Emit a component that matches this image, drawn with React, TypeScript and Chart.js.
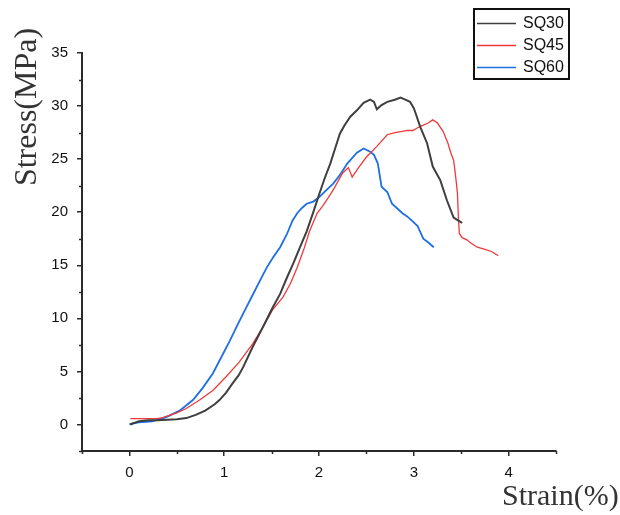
import React, { useEffect, useRef } from "react";
import { Chart, registerables } from "chart.js";

Chart.register(...registerables);

// ---- data ----
const seriesLabels = ["SQ30", "SQ45", "SQ60"];
const seriesColors = ["#3f3f3f", "#f03a3a", "#1c6fe4"];
const seriesWidths = [2, 1.3, 1.8];

const sq30Strain = [0.01, 0.1, 0.2, 0.3, 0.4, 0.5, 0.6, 0.7, 0.8, 0.9, 0.95, 1.02, 1.09, 1.15, 1.2, 1.3, 1.41, 1.51, 1.59, 1.66, 1.73, 1.8, 1.87, 1.94, 2.01, 2.06, 2.12, 2.17, 2.22, 2.27, 2.33, 2.4, 2.47, 2.54, 2.58, 2.61, 2.66, 2.72, 2.8, 2.86, 2.91, 2.96, 3.0, 3.02, 3.07, 3.14, 3.2, 3.28, 3.35, 3.42, 3.47, 3.51];
const sq30Stress = [0.0, 0.3, 0.4, 0.4, 0.45, 0.5, 0.6, 0.9, 1.3, 1.9, 2.3, 3.0, 3.9, 4.6, 5.4, 7.3, 9.2, 11.0, 12.3, 13.8, 15.2, 16.7, 18.2, 20.0, 21.9, 23.2, 24.6, 26.0, 27.4, 28.2, 29.0, 29.6, 30.3, 30.6, 30.4, 29.7, 30.1, 30.4, 30.6, 30.8, 30.6, 30.4, 29.8, 29.3, 28.0, 26.5, 24.3, 23.0, 21.1, 19.5, 19.2, 19.0];

const sq45Strain = [0.01, 0.1, 0.2, 0.29, 0.35, 0.42, 0.5, 0.6, 0.74, 0.88, 1.02, 1.16, 1.3, 1.41, 1.51, 1.62, 1.7, 1.77, 1.84, 1.9, 1.98, 2.04, 2.1, 2.15, 2.2, 2.25, 2.31, 2.35, 2.41, 2.5, 2.61, 2.72, 2.8, 2.86, 2.93, 2.99, 3.05, 3.1, 3.15, 3.2, 3.25, 3.31, 3.36, 3.39, 3.42, 3.44, 3.46, 3.47, 3.48, 3.51, 3.56, 3.6, 3.67, 3.75, 3.82, 3.89];
const sq45Stress = [0.55, 0.55, 0.55, 0.55, 0.65, 0.85, 1.1, 1.5, 2.3, 3.2, 4.5, 5.9, 7.6, 9.2, 10.8, 12.0, 13.3, 14.8, 16.5, 18.2, 19.9, 20.6, 21.4, 22.1, 22.9, 23.7, 24.2, 23.3, 24.1, 25.2, 26.2, 27.3, 27.5, 27.6, 27.7, 27.7, 28.0, 28.2, 28.4, 28.7, 28.4, 27.6, 26.5, 25.6, 24.9, 23.5, 21.8, 19.7, 18.0, 17.6, 17.4, 17.1, 16.7, 16.5, 16.3, 15.9];

const sq60Strain = [0.0, 0.03, 0.1, 0.24, 0.39, 0.53, 0.67, 0.77, 0.88, 0.95, 1.06, 1.13, 1.22, 1.3, 1.38, 1.45, 1.52, 1.59, 1.66, 1.72, 1.77, 1.82, 1.87, 1.94, 2.0, 2.08, 2.15, 2.22, 2.3, 2.4, 2.47, 2.54, 2.58, 2.62, 2.66, 2.72, 2.77, 2.82, 2.88, 2.93, 2.98, 3.04, 3.1, 3.16, 3.21];
const sq60Stress = [0.0, 0.1, 0.2, 0.3, 0.7, 1.3, 2.3, 3.4, 4.8, 6.0, 7.9, 9.2, 10.8, 12.2, 13.6, 14.8, 15.8, 16.7, 17.9, 19.2, 19.9, 20.4, 20.8, 21.0, 21.4, 22.1, 22.7, 23.5, 24.6, 25.6, 26.0, 25.7, 25.4, 24.6, 22.4, 21.9, 20.8, 20.4, 19.9, 19.6, 19.2, 18.7, 17.5, 17.1, 16.7];

const xMajorTicks = [0, 1, 2, 3, 4];
const xMinorTicks = [-0.5, 0.5, 1.5, 2.5, 3.5, 4.5];
const yMajorTicks = [0, 5, 10, 15, 20, 25, 30, 35];
const yMinorTicks = [-2.5, 2.5, 7.5, 12.5, 17.5, 22.5, 27.5, 32.5];
const xRange = [-0.5, 4.5];
const yRange = [-2.5, 35];
const xTitle = "Strain(%)";
const yTitle = "Stress(MPa)";

const AXIS_COLOR = "#2a2a2a";
const TICK_FONT = '"Liberation Sans", Arial, sans-serif';

function zip(xs: number[], ys: number[]) {
  return xs.map((x, i) => ({ x, y: ys[i] }));
}

const minorTicksPlugin = {
  id: "minorTicks",
  afterDraw(chart: any) {
    const ctx = chart.ctx;
    const xs = chart.scales.x;
    const ys = chart.scales.y;
    const area = chart.chartArea;
    ctx.save();
    ctx.strokeStyle = AXIS_COLOR;
    ctx.lineWidth = 1.5;
    ctx.beginPath();
    xMinorTicks.forEach((v) => {
      const px = Math.round(xs.getPixelForValue(v)) + 0.5;
      ctx.moveTo(px, area.bottom);
      ctx.lineTo(px, area.bottom + 3);
    });
    yMinorTicks.forEach((v) => {
      const py = Math.round(ys.getPixelForValue(v)) + 0.5;
      ctx.moveTo(area.left, py);
      ctx.lineTo(area.left - 3, py);
    });
    ctx.stroke();
    ctx.restore();
  },
};

const titlesPlugin = {
  id: "titles",
  afterDraw(chart: any) {
    const ctx = chart.ctx;
    ctx.save();
    ctx.fillStyle = "#333333";
    ctx.font = '30px "Liberation Serif", "Times New Roman", serif';
    ctx.textAlign = "left";
    ctx.textBaseline = "alphabetic";
    ctx.fillText(xTitle, 502, 505);
    ctx.font = '32px "Liberation Serif", "Times New Roman", serif';
    ctx.translate(28, 107);
    ctx.rotate(-Math.PI / 2);
    ctx.textAlign = "center";
    ctx.textBaseline = "middle";
    ctx.fillText(yTitle, 0, 0);
    ctx.restore();
  },
};

const legendPlugin = {
  id: "boxLegend",
  afterDraw(chart: any) {
    const ctx = chart.ctx;
    ctx.save();
    ctx.strokeStyle = "#111111";
    ctx.lineWidth = 2;
    ctx.strokeRect(474, 9, 95, 70);
    ctx.font = '16px "Liberation Sans", Arial, sans-serif';
    ctx.textAlign = "left";
    ctx.textBaseline = "middle";
    chart.data.datasets.forEach((ds: any, i: number) => {
      const y = 23 + i * 22;
      ctx.strokeStyle = ds.borderColor;
      ctx.lineWidth = 1.6;
      ctx.beginPath();
      ctx.moveTo(477, y + 0.5);
      ctx.lineTo(516, y + 0.5);
      ctx.stroke();
      ctx.fillStyle = "#111111";
      ctx.fillText(ds.label, 523, y + 1);
    });
    ctx.restore();
  },
};

export default function App() {
  const canvasRef = useRef<HTMLCanvasElement | null>(null);

  useEffect(() => {
    const canvas = canvasRef.current;
    if (!canvas) return;
    const seriesData = [
      zip(sq30Strain, sq30Stress),
      zip(sq45Strain, sq45Stress),
      zip(sq60Strain, sq60Stress),
    ];
    const chart = new Chart(canvas, {
      type: "scatter",
      data: {
        datasets: seriesLabels.map((label, i) => ({
          label,
          data: seriesData[i],
          showLine: true,
          borderColor: seriesColors[i],
          backgroundColor: seriesColors[i],
          borderWidth: seriesWidths[i],
          pointRadius: 0,
          pointHoverRadius: 0,
          tension: 0,
        })),
      },
      options: {
        animation: false,
        responsive: false,
        maintainAspectRatio: false,
        devicePixelRatio: 1,
        layout: { padding: { left: 0, top: 53, right: 64, bottom: 0 } },
        plugins: {
          legend: { display: false },
          tooltip: { enabled: false },
        },
        scales: {
          x: {
            type: "linear",
            min: xRange[0],
            max: xRange[1],
            afterBuildTicks: (scale: any) => {
              scale.ticks = xMajorTicks.map((v) => ({ value: v }));
            },
            afterFit: (scale: any) => {
              scale.height = 64;
            },
            grid: {
              drawOnChartArea: false,
              drawTicks: true,
              tickLength: 5,
              color: AXIS_COLOR,
              lineWidth: 1.5,
            },
            border: { display: true, color: AXIS_COLOR, width: 2 },
            ticks: {
              color: "#111111",
              font: { family: TICK_FONT, size: 15 },
              padding: 8,
              maxRotation: 0,
              callback: (v: any) => String(v),
            },
          },
          y: {
            type: "linear",
            min: yRange[0],
            max: yRange[1],
            afterBuildTicks: (scale: any) => {
              scale.ticks = yMajorTicks.map((v) => ({ value: v }));
            },
            afterFit: (scale: any) => {
              scale.width = 82;
            },
            grid: {
              drawOnChartArea: false,
              drawTicks: true,
              tickLength: 5,
              color: AXIS_COLOR,
              lineWidth: 1.5,
            },
            border: { display: true, color: AXIS_COLOR, width: 2 },
            ticks: {
              color: "#111111",
              font: { family: TICK_FONT, size: 15 },
              padding: 9,
              callback: (v: any) => String(v),
            },
          },
        },
      },
      plugins: [minorTicksPlugin, titlesPlugin, legendPlugin],
    });
    return () => chart.destroy();
  }, []);

  return (
    <div style={{ position: "absolute", left: 0, top: 0, width: 620, height: 515, background: "#ffffff" }}>
      <canvas ref={canvasRef} width={620} height={515} style={{ display: "block", width: 620, height: 515 }} />
    </div>
  );
}
